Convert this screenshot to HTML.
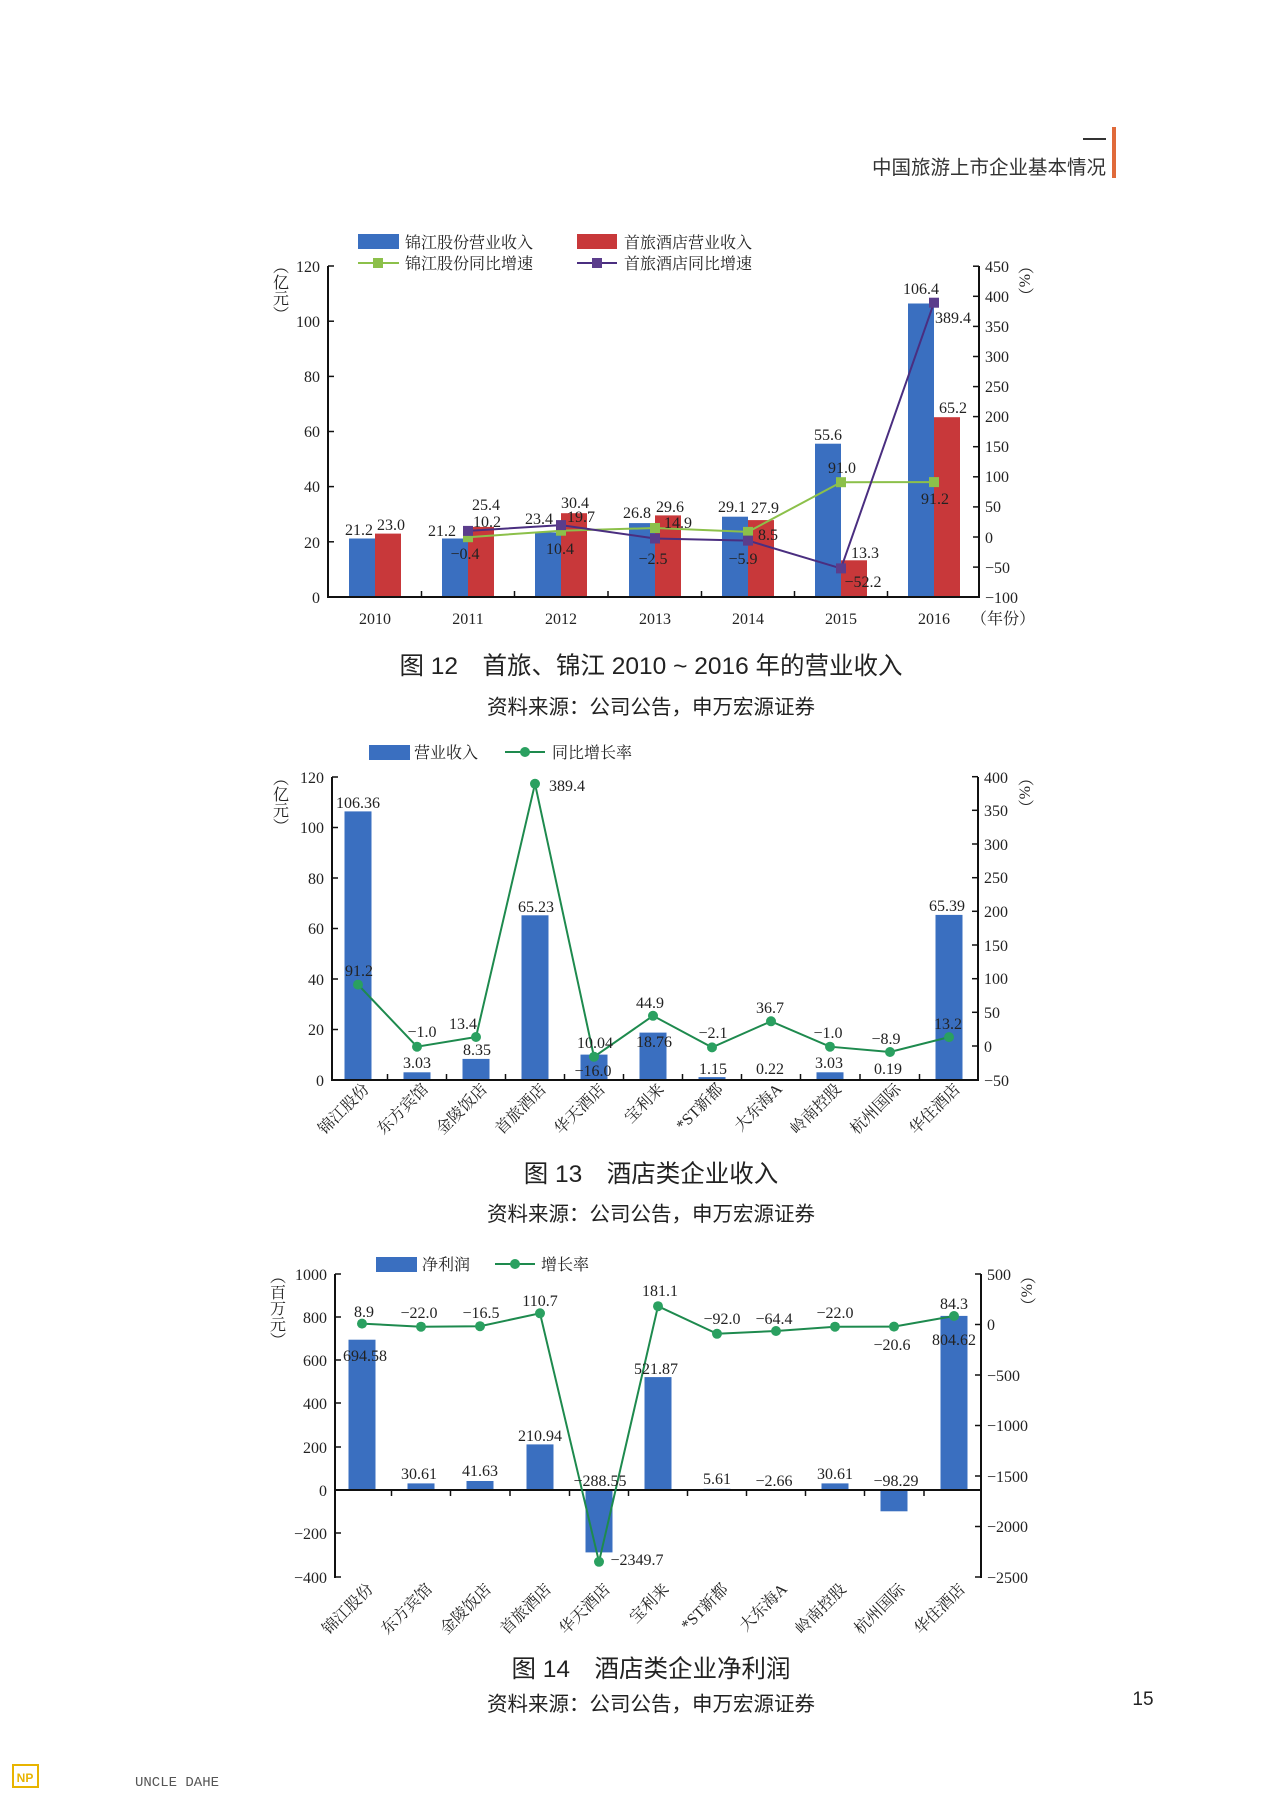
<!DOCTYPE html>
<html><head><meta charset="utf-8"><style>
html,body{margin:0;padding:0;background:#fff;}
svg{display:block;}
.t{font-family:"Liberation Serif","Noto Serif CJK SC",serif;font-size:16px;fill:#222;}
.c{text-anchor:middle;}
.e{text-anchor:end;}
.lg{font-family:"Liberation Serif","Noto Serif CJK SC",serif;font-size:16px;fill:#222;}
.cap{font-family:"Liberation Sans","Noto Sans CJK SC",sans-serif;font-size:24.5px;fill:#222;text-anchor:middle;}
.src{font-family:"Liberation Sans","Noto Sans CJK SC",sans-serif;font-size:20.5px;fill:#222;text-anchor:middle;}
.v{font-family:"Liberation Serif","Noto Serif CJK SC",serif;font-size:16px;fill:#222;writing-mode:vertical-rl;}
</style></head><body>
<svg width="1280" height="1799" viewBox="0 0 1280 1799" xmlns="http://www.w3.org/2000/svg">
<line x1="1083" y1="139" x2="1106" y2="139" stroke="#333" stroke-width="2"/>
<rect x="1112" y="127" width="4" height="51" fill="#e06a3a"/>
<text x="1106" y="174" style="font-family:'Liberation Sans','Noto Sans CJK SC',sans-serif;font-size:19.5px;fill:#333;text-anchor:end">中国旅游上市企业基本情况</text>

<rect x="358" y="234" width="41" height="15" fill="#3a6fc0"/>
<text class="lg" x="405" y="248">锦江股份营业收入</text>
<rect x="577" y="234" width="40" height="15" fill="#c8383a"/>
<text class="lg" x="624" y="248">首旅酒店营业收入</text>
<line x1="358" y1="263" x2="399" y2="263" stroke="#8cc04a" stroke-width="2"/>
<rect x="373" y="258" width="10" height="10" fill="#8cc04a"/>
<text class="lg" x="405" y="269">锦江股份同比增速</text>
<line x1="577" y1="263" x2="617" y2="263" stroke="#4a2e80" stroke-width="2"/>
<rect x="592" y="258" width="10" height="10" fill="#5b3d8c"/>
<text class="lg" x="624" y="269">首旅酒店同比增速</text>

<text class="v" x="279" y="258">（亿元）</text>
<text class="v" x="1024" y="258">（%）</text>

<g fill="#3a6fc0">
<rect x="349" y="538.5" width="26" height="58.5"/>
<rect x="442" y="538.5" width="26" height="58.5"/>
<rect x="535" y="532.5" width="26" height="64.5"/>
<rect x="629" y="523.1" width="26" height="73.9"/>
<rect x="722" y="516.7" width="26" height="80.3"/>
<rect x="815" y="443.7" width="26" height="153.3"/>
<rect x="908" y="303.5" width="26" height="293.5"/>
</g>
<g fill="#c8383a">
<rect x="375" y="533.6" width="26" height="63.4"/>
<rect x="468" y="526.9" width="26" height="70.1"/>
<rect x="561" y="513.2" width="26" height="83.8"/>
<rect x="655" y="515.4" width="26" height="81.6"/>
<rect x="748" y="520.1" width="26" height="76.9"/>
<rect x="841" y="560.3" width="26" height="36.7"/>
<rect x="934" y="417.2" width="26" height="179.8"/>
</g>
<polyline fill="none" stroke="#8cc04a" stroke-width="2" points="468,537.2 561,530.7 655,528 748,531.9 841,482.2 934,482.1"/>
<g fill="#8cc04a">
<rect x="463" y="532.2" width="10" height="10"/><rect x="556" y="525.7" width="10" height="10"/><rect x="650" y="523" width="10" height="10"/><rect x="743" y="526.9" width="10" height="10"/><rect x="836" y="477.2" width="10" height="10"/><rect x="929" y="477.1" width="10" height="10"/>
</g>
<polyline fill="none" stroke="#4a2e80" stroke-width="2" points="468,530.9 561,525.1 655,538.5 748,540.6 841,568.4 934,302.7"/>
<g fill="#5b3d8c">
<rect x="463" y="525.9" width="10" height="10"/><rect x="556" y="520.1" width="10" height="10"/><rect x="650" y="533.5" width="10" height="10"/><rect x="743" y="535.6" width="10" height="10"/><rect x="836" y="563.4" width="10" height="10"/><rect x="929" y="297.7" width="10" height="10"/>
</g>
<g stroke="#111" stroke-width="2">
<line x1="328" y1="266" x2="328" y2="598"/>
<line x1="979" y1="266" x2="979" y2="598"/>
<line x1="327" y1="597" x2="980" y2="597"/>
</g>
<g stroke="#111" stroke-width="1.5">
<line x1="328" y1="266" x2="334" y2="266"/><line x1="328" y1="321.2" x2="334" y2="321.2"/><line x1="328" y1="376.4" x2="334" y2="376.4"/><line x1="328" y1="431.5" x2="334" y2="431.5"/><line x1="328" y1="486.6" x2="334" y2="486.6"/><line x1="328" y1="541.8" x2="334" y2="541.8"/>
<line x1="973" y1="266.2" x2="979" y2="266.2"/><line x1="973" y1="296.3" x2="979" y2="296.3"/><line x1="973" y1="326.4" x2="979" y2="326.4"/><line x1="973" y1="356.5" x2="979" y2="356.5"/><line x1="973" y1="386.6" x2="979" y2="386.6"/><line x1="973" y1="416.6" x2="979" y2="416.6"/><line x1="973" y1="446.7" x2="979" y2="446.7"/><line x1="973" y1="476.8" x2="979" y2="476.8"/><line x1="973" y1="506.9" x2="979" y2="506.9"/><line x1="973" y1="537" x2="979" y2="537"/><line x1="973" y1="567.1" x2="979" y2="567.1"/>
<line x1="421.5" y1="591" x2="421.5" y2="597"/><line x1="514.5" y1="591" x2="514.5" y2="597"/><line x1="608" y1="591" x2="608" y2="597"/><line x1="701.5" y1="591" x2="701.5" y2="597"/><line x1="794.5" y1="591" x2="794.5" y2="597"/><line x1="887.5" y1="591" x2="887.5" y2="597"/>
</g>
<g class="t e">
<text x="320" y="272">120</text><text x="320" y="327">100</text><text x="320" y="382">80</text><text x="320" y="437">60</text><text x="320" y="492">40</text><text x="320" y="548">20</text><text x="320" y="603">0</text>
</g>
<g class="t">
<text x="985" y="272">450</text><text x="985" y="302">400</text><text x="985" y="332">350</text><text x="985" y="362">300</text><text x="985" y="392">250</text><text x="985" y="422">200</text><text x="985" y="452">150</text><text x="985" y="482">100</text><text x="985" y="512">50</text><text x="985" y="543">0</text><text x="985" y="573">−50</text><text x="985" y="603">−100</text>
</g>
<g class="t c">
<text x="375" y="624">2010</text><text x="468" y="624">2011</text><text x="561" y="624">2012</text><text x="655" y="624">2013</text><text x="748" y="624">2014</text><text x="841" y="624">2015</text><text x="934" y="624">2016</text>
<text x="1003" y="624">（年份）</text>
<text x="359" y="535">21.2</text><text x="391" y="530">23.0</text><text x="442" y="536">21.2</text><text x="486" y="510">25.4</text><text x="487" y="527">10.2</text><text x="465" y="559">−0.4</text>
<text x="539" y="524">23.4</text><text x="575" y="508">30.4</text><text x="581" y="522">19.7</text><text x="560" y="554">10.4</text>
<text x="637" y="518">26.8</text><text x="670" y="512">29.6</text><text x="678" y="528">14.9</text><text x="653" y="564">−2.5</text>
<text x="732" y="512">29.1</text><text x="765" y="513">27.9</text><text x="768" y="540">8.5</text><text x="743" y="564">−5.9</text>
<text x="828" y="440">55.6</text><text x="842" y="473">91.0</text><text x="865" y="558">13.3</text><text x="863" y="587">−52.2</text>
<text x="921" y="294">106.4</text><text x="953" y="323">389.4</text><text x="953" y="413">65.2</text><text x="935" y="504">91.2</text>
</g>
<text class="cap" x="651" y="674">图 12　首旅、锦江 2010 ~ 2016 年的营业收入</text>
<text class="src" x="651" y="714">资料来源：公司公告，申万宏源证券</text>

<rect x="369" y="745" width="41" height="15" fill="#3a6fc0"/>
<text class="lg" x="414" y="758">营业收入</text>
<line x1="505" y1="752" x2="545" y2="752" stroke="#1e8a4e" stroke-width="2"/>
<circle cx="525" cy="752" r="5" fill="#2aa060"/>
<text class="lg" x="552" y="758">同比增长率</text>
<text class="v" x="279" y="770">（亿元）</text>
<text class="v" x="1024" y="770">（%）</text>
<g fill="#3a6fc0">
<rect x="344.5" y="811.4" width="27" height="268.6"/>
<rect x="403.5" y="1072.3" width="27" height="7.7"/>
<rect x="462.5" y="1058.9" width="27" height="21.1"/>
<rect x="521.5" y="915.3" width="27" height="164.7"/>
<rect x="580.5" y="1054.6" width="27" height="25.4"/>
<rect x="639.5" y="1032.6" width="27" height="47.4"/>
<rect x="698.5" y="1077.1" width="27" height="2.9"/>
<rect x="757.5" y="1079" width="27" height="1"/>
<rect x="816.5" y="1072.3" width="27" height="7.7"/>
<rect x="876.5" y="1079" width="27" height="1"/>
<rect x="935.5" y="914.9" width="27" height="165.1"/>
</g>
<polyline fill="none" stroke="#1e8a4e" stroke-width="2" points="358,984.6 417,1046.7 476,1037 535,783.8 594,1056.8 653,1015.8 712,1047.4 771,1021.3 830,1046.7 890,1052 949,1037.1"/>
<g fill="#2aa060">
<circle cx="358" cy="984.6" r="5"/><circle cx="417" cy="1046.7" r="5"/><circle cx="476" cy="1037" r="5"/><circle cx="535" cy="783.8" r="5"/><circle cx="594" cy="1056.8" r="5"/><circle cx="653" cy="1015.8" r="5"/><circle cx="712" cy="1047.4" r="5"/><circle cx="771" cy="1021.3" r="5"/><circle cx="830" cy="1046.7" r="5"/><circle cx="890" cy="1052" r="5"/><circle cx="949" cy="1037.1" r="5"/>
</g>
<g stroke="#111" stroke-width="2">
<line x1="332" y1="777" x2="332" y2="1081"/>
<line x1="978" y1="777" x2="978" y2="1081"/>
<line x1="331" y1="1080" x2="979" y2="1080"/>
</g>
<g stroke="#111" stroke-width="1.5">
<line x1="332" y1="777" x2="338" y2="777"/><line x1="332" y1="827.5" x2="338" y2="827.5"/><line x1="332" y1="878" x2="338" y2="878"/><line x1="332" y1="928.5" x2="338" y2="928.5"/><line x1="332" y1="979" x2="338" y2="979"/><line x1="332" y1="1029.5" x2="338" y2="1029.5"/>
<line x1="972" y1="776.7" x2="978" y2="776.7"/><line x1="972" y1="810.3" x2="978" y2="810.3"/><line x1="972" y1="844" x2="978" y2="844"/><line x1="972" y1="877.7" x2="978" y2="877.7"/><line x1="972" y1="911.3" x2="978" y2="911.3"/><line x1="972" y1="945" x2="978" y2="945"/><line x1="972" y1="978.7" x2="978" y2="978.7"/><line x1="972" y1="1012.3" x2="978" y2="1012.3"/><line x1="972" y1="1046" x2="978" y2="1046"/>
<line x1="387.5" y1="1074" x2="387.5" y2="1080"/><line x1="446.5" y1="1074" x2="446.5" y2="1080"/><line x1="505.5" y1="1074" x2="505.5" y2="1080"/><line x1="564.5" y1="1074" x2="564.5" y2="1080"/><line x1="623.5" y1="1074" x2="623.5" y2="1080"/><line x1="682.5" y1="1074" x2="682.5" y2="1080"/><line x1="741.5" y1="1074" x2="741.5" y2="1080"/><line x1="800.5" y1="1074" x2="800.5" y2="1080"/><line x1="860" y1="1074" x2="860" y2="1080"/><line x1="919.5" y1="1074" x2="919.5" y2="1080"/>
</g>
<g class="t e">
<text x="324" y="783">120</text><text x="324" y="833">100</text><text x="324" y="884">80</text><text x="324" y="934">60</text><text x="324" y="985">40</text><text x="324" y="1035">20</text><text x="324" y="1086">0</text>
</g>
<g class="t">
<text x="984" y="783">400</text><text x="984" y="816">350</text><text x="984" y="850">300</text><text x="984" y="883">250</text><text x="984" y="917">200</text><text x="984" y="951">150</text><text x="984" y="984">100</text><text x="984" y="1018">50</text><text x="984" y="1052">0</text><text x="984" y="1086">−50</text>
</g>
<g class="t c">
<text x="358" y="808">106.36</text><text x="359" y="976">91.2</text><text x="567" y="791">389.4</text><text x="536" y="912">65.23</text>
<text x="422" y="1037">−1.0</text><text x="417" y="1068">3.03</text><text x="463" y="1029">13.4</text><text x="477" y="1055">8.35</text>
<text x="595" y="1048">10.04</text><text x="593" y="1076">−16.0</text><text x="650" y="1008">44.9</text><text x="654" y="1047">18.76</text>
<text x="713" y="1038">−2.1</text><text x="713" y="1074">1.15</text><text x="770" y="1013">36.7</text><text x="770" y="1074">0.22</text>
<text x="828" y="1038">−1.0</text><text x="829" y="1068">3.03</text><text x="886" y="1044">−8.9</text><text x="888" y="1074">0.19</text>
<text x="947" y="911">65.39</text><text x="948" y="1029">13.2</text>
</g>
<g class="t e">
<text transform="translate(370,1090) rotate(-45)">锦江股份</text>
<text transform="translate(429,1090) rotate(-45)">东方宾馆</text>
<text transform="translate(488,1090) rotate(-45)">金陵饭店</text>
<text transform="translate(547,1090) rotate(-45)">首旅酒店</text>
<text transform="translate(606,1090) rotate(-45)">华天酒店</text>
<text transform="translate(665,1090) rotate(-45)">宝利来</text>
<text transform="translate(724,1090) rotate(-45)">*ST新都</text>
<text transform="translate(783,1090) rotate(-45)">大东海A</text>
<text transform="translate(842,1090) rotate(-45)">岭南控股</text>
<text transform="translate(902,1090) rotate(-45)">杭州国际</text>
<text transform="translate(961,1090) rotate(-45)">华住酒店</text>
</g>
<text class="cap" x="651" y="1182">图 13　酒店类企业收入</text>
<text class="src" x="651" y="1221">资料来源：公司公告，申万宏源证券</text>

<rect x="376" y="1257" width="41" height="15" fill="#3a6fc0"/>
<text class="lg" x="422" y="1270">净利润</text>
<line x1="495" y1="1264" x2="535" y2="1264" stroke="#1e8a4e" stroke-width="2"/>
<circle cx="515" cy="1264" r="5" fill="#2aa060"/>
<text class="lg" x="541" y="1270">增长率</text>
<text class="v" x="276" y="1268">（百万元）</text>
<text class="v" x="1026" y="1268">（%）</text>
<g fill="#3a6fc0">
<rect x="348.5" y="1339.7" width="27" height="150.3"/>
<rect x="407.5" y="1483.4" width="27" height="6.6"/>
<rect x="466.5" y="1481" width="27" height="9"/>
<rect x="526.5" y="1444.4" width="27" height="45.6"/>
<rect x="585.5" y="1490" width="27" height="62.4"/>
<rect x="644.5" y="1377.1" width="27" height="112.9"/>
<rect x="703.5" y="1488.8" width="27" height="1.2"/>
<rect x="762.5" y="1490" width="27" height="0.6"/>
<rect x="821.5" y="1483.4" width="27" height="6.6"/>
<rect x="880.5" y="1490" width="27" height="21.3"/>
<rect x="940.5" y="1315.9" width="27" height="174.1"/>
</g>
<g stroke="#111" stroke-width="2">
<line x1="335" y1="1274" x2="335" y2="1578"/>
<line x1="981" y1="1274" x2="981" y2="1578"/>
<line x1="335" y1="1490" x2="981" y2="1490"/>
</g>
<polyline fill="none" stroke="#1e8a4e" stroke-width="2" points="362,1323.6 421,1326.7 480,1326.2 540,1313.3 599,1561.8 658,1306.2 717,1333.8 776,1331 835,1326.7 894,1326.6 954,1316"/>
<g fill="#2aa060">
<circle cx="362" cy="1323.6" r="5"/><circle cx="421" cy="1326.7" r="5"/><circle cx="480" cy="1326.2" r="5"/><circle cx="540" cy="1313.3" r="5"/><circle cx="599" cy="1561.8" r="5"/><circle cx="658" cy="1306.2" r="5"/><circle cx="717" cy="1333.8" r="5"/><circle cx="776" cy="1331" r="5"/><circle cx="835" cy="1326.7" r="5"/><circle cx="894" cy="1326.6" r="5"/><circle cx="954" cy="1316" r="5"/>
</g>
<g stroke="#111" stroke-width="1.5">
<line x1="335" y1="1274" x2="341" y2="1274"/><line x1="335" y1="1317" x2="341" y2="1317"/><line x1="335" y1="1360" x2="341" y2="1360"/><line x1="335" y1="1403" x2="341" y2="1403"/><line x1="335" y1="1447" x2="341" y2="1447"/><line x1="335" y1="1533" x2="341" y2="1533"/><line x1="335" y1="1577" x2="341" y2="1577"/>
<line x1="975" y1="1274" x2="981" y2="1274"/><line x1="975" y1="1324.5" x2="981" y2="1324.5"/><line x1="975" y1="1375" x2="981" y2="1375"/><line x1="975" y1="1425.5" x2="981" y2="1425.5"/><line x1="975" y1="1476" x2="981" y2="1476"/><line x1="975" y1="1526.5" x2="981" y2="1526.5"/><line x1="975" y1="1577" x2="981" y2="1577"/>
<line x1="391.5" y1="1490" x2="391.5" y2="1496"/><line x1="450.5" y1="1490" x2="450.5" y2="1496"/><line x1="510" y1="1490" x2="510" y2="1496"/><line x1="569.5" y1="1490" x2="569.5" y2="1496"/><line x1="628.5" y1="1490" x2="628.5" y2="1496"/><line x1="687.5" y1="1490" x2="687.5" y2="1496"/><line x1="746.5" y1="1490" x2="746.5" y2="1496"/><line x1="805.5" y1="1490" x2="805.5" y2="1496"/><line x1="864.5" y1="1490" x2="864.5" y2="1496"/><line x1="924" y1="1490" x2="924" y2="1496"/>
</g>
<g class="t e">
<text x="327" y="1280">1000</text><text x="327" y="1323">800</text><text x="327" y="1366">600</text><text x="327" y="1409">400</text><text x="327" y="1453">200</text><text x="327" y="1496">0</text><text x="327" y="1539">−200</text><text x="327" y="1583">−400</text>
</g>
<g class="t">
<text x="987" y="1280">500</text><text x="987" y="1330">0</text><text x="987" y="1381">−500</text><text x="987" y="1431">−1000</text><text x="987" y="1482">−1500</text><text x="987" y="1532">−2000</text><text x="987" y="1583">−2500</text>
</g>
<g class="t c">
<text x="364" y="1317">8.9</text><text x="365" y="1361">694.58</text><text x="419" y="1318">−22.0</text><text x="419" y="1479">30.61</text>
<text x="481" y="1318">−16.5</text><text x="480" y="1476">41.63</text><text x="540" y="1306">110.7</text><text x="540" y="1441">210.94</text>
<text x="600" y="1486">−288.55</text><text x="637" y="1565">−2349.7</text><text x="660" y="1296">181.1</text><text x="656" y="1374">521.87</text>
<text x="722" y="1324">−92.0</text><text x="717" y="1484">5.61</text><text x="774" y="1324">−64.4</text><text x="774" y="1486">−2.66</text>
<text x="835" y="1318">−22.0</text><text x="835" y="1479">30.61</text><text x="892" y="1350">−20.6</text><text x="896" y="1486">−98.29</text>
<text x="954" y="1309">84.3</text><text x="954" y="1345">804.62</text>
</g>
<g class="t e">
<text transform="translate(374,1590) rotate(-45)">锦江股份</text>
<text transform="translate(433,1590) rotate(-45)">东方宾馆</text>
<text transform="translate(492,1590) rotate(-45)">金陵饭店</text>
<text transform="translate(552,1590) rotate(-45)">首旅酒店</text>
<text transform="translate(611,1590) rotate(-45)">华天酒店</text>
<text transform="translate(670,1590) rotate(-45)">宝利来</text>
<text transform="translate(729,1590) rotate(-45)">*ST新都</text>
<text transform="translate(788,1590) rotate(-45)">大东海A</text>
<text transform="translate(847,1590) rotate(-45)">岭南控股</text>
<text transform="translate(906,1590) rotate(-45)">杭州国际</text>
<text transform="translate(966,1590) rotate(-45)">华住酒店</text>
</g>
<text class="cap" x="651" y="1677">图 14　酒店类企业净利润</text>
<text class="src" x="651" y="1711">资料来源：公司公告，申万宏源证券</text>
<text x="1143" y="1705" style="font-family:'Liberation Sans',sans-serif;font-size:19px;fill:#222;text-anchor:middle">15</text>

<rect x="13" y="1765" width="25" height="22" fill="none" stroke="#e8b400" stroke-width="2"/>
<text x="25" y="1782" style="font-family:'Liberation Sans',sans-serif;font-size:12px;font-weight:bold;fill:#e8b400;text-anchor:middle">NP</text>
<text x="135" y="1786" style="font-family:'Liberation Mono',monospace;font-size:14px;fill:#555">UNCLE  DAHE</text>
</svg>
</body></html>
